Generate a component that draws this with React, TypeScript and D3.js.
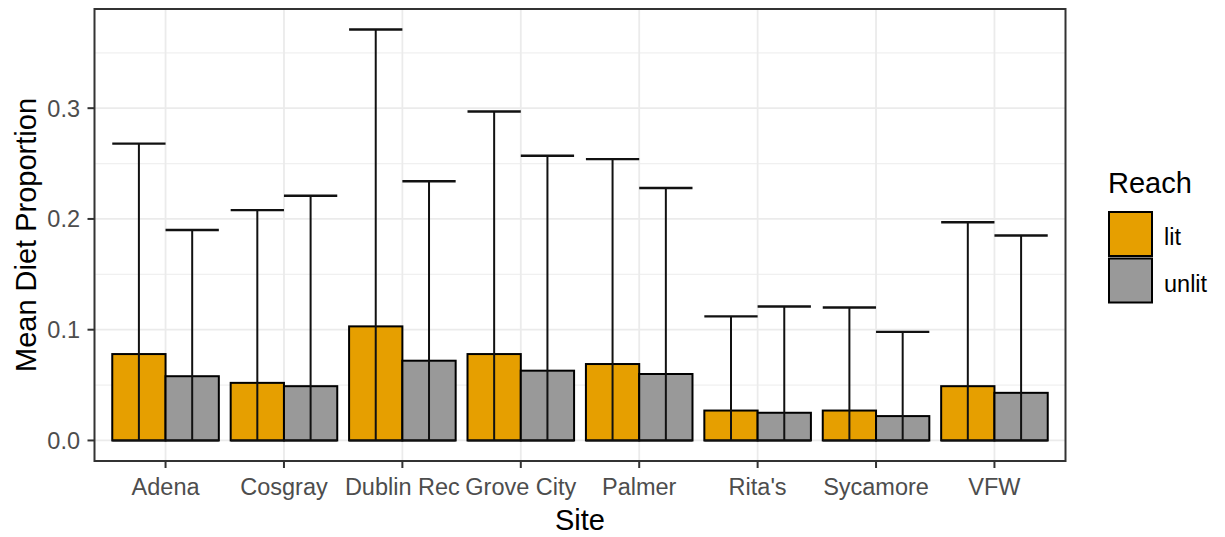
import * as d3 from "d3";

const sites = ["Adena", "Cosgray", "Dublin Rec", "Grove City", "Palmer", "Rita's", "Sycamore", "VFW"];
const reaches = ["lit", "unlit"];
const litMean = [0.078, 0.052, 0.103, 0.078, 0.069, 0.027, 0.027, 0.049];
const litUpper = [0.268, 0.208, 0.371, 0.297, 0.254, 0.112, 0.120, 0.197];
const litLower = [0, 0, 0, 0, 0, 0, 0, 0];
const unlitMean = [0.058, 0.049, 0.072, 0.063, 0.060, 0.025, 0.022, 0.043];
const unlitUpper = [0.190, 0.221, 0.234, 0.257, 0.228, 0.121, 0.098, 0.185];
const unlitLower = [0, 0, 0, 0, 0, 0, 0, 0];
const yTicks = [0, 0.1, 0.2, 0.3];
const yMinor = [0.05, 0.15, 0.25, 0.35];

const colors: Record<string, string> = { lit: "#E69F00", unlit: "#999999" };
const FONT = "Arial, 'Liberation Sans', sans-serif";

export default function App() {
  const width = 1225;
  const height = 537;
  const panel = { left: 94.5, right: 1065.5, top: 9, bottom: 461 };

  const rows = sites.flatMap((s, i) => [
    { site: s, reach: "lit", mean: litMean[i], lo: litLower[i], hi: litUpper[i] },
    { site: s, reach: "unlit", mean: unlitMean[i], lo: unlitLower[i], hi: unlitUpper[i] },
  ]);

  const maxV = d3.max(rows, (d) => d.hi) as number;
  const pad = maxV * 0.05;
  const y = d3.scaleLinear().domain([-pad, maxV + pad]).range([panel.bottom, panel.top]);

  const x = d3
    .scaleBand()
    .domain(sites)
    .range([panel.left, panel.right])
    .paddingInner(0)
    .paddingOuter(0.1);
  const bw = x.bandwidth();
  const xr = d3
    .scaleBand()
    .domain(reaches)
    .range([0.05 * bw, 0.95 * bw]);
  const center = (s: string) => (x(s) as number) + bw / 2;

  return (
    <svg
      width={width}
      height={height}
      style={{ position: "absolute", left: 0, top: 0, background: "#fff" }}
      fontFamily={FONT}
    >
      <rect x={0} y={0} width={width} height={height} fill="#fff" />
      {/* grid */}
      {yMinor.map((t) => (
        <line key={"mn" + t} x1={panel.left} x2={panel.right} y1={y(t)} y2={y(t)} stroke="#F0F0F0" strokeWidth={1.2} />
      ))}
      {yTicks.map((t) => (
        <line key={"mj" + t} x1={panel.left} x2={panel.right} y1={y(t)} y2={y(t)} stroke="#EBEBEB" strokeWidth={1.8} />
      ))}
      {sites.map((s) => (
        <line key={"vg" + s} x1={center(s)} x2={center(s)} y1={panel.top} y2={panel.bottom} stroke="#EBEBEB" strokeWidth={1.8} />
      ))}

      {/* bars */}
      {rows.map((d) => {
        const bx = (x(d.site) as number) + (xr(d.reach) as number);
        return (
          <rect
            key={"b" + d.site + d.reach}
            x={bx}
            y={y(d.mean)}
            width={xr.bandwidth()}
            height={y(0) - y(d.mean)}
            fill={colors[d.reach]}
            stroke="#000"
            strokeWidth={2}
          />
        );
      })}

      {/* error bars */}
      {rows.map((d) => {
        const bx = (x(d.site) as number) + (xr(d.reach) as number);
        const cx = bx + xr.bandwidth() / 2;
        return (
          <g key={"e" + d.site + d.reach} stroke="#111" strokeWidth={2}>
            <line x1={cx} x2={cx} y1={y(d.lo)} y2={y(d.hi)} />
            <line x1={bx} x2={bx + xr.bandwidth()} y1={y(d.hi)} y2={y(d.hi)} strokeWidth={2.4} />
            <line x1={bx} x2={bx + xr.bandwidth()} y1={y(d.lo)} y2={y(d.lo)} />
          </g>
        );
      })}

      {/* panel border */}
      <rect
        x={panel.left}
        y={panel.top}
        width={panel.right - panel.left}
        height={panel.bottom - panel.top}
        fill="none"
        stroke="#333333"
        strokeWidth={2}
      />

      {/* y axis */}
      {yTicks.map((t) => (
        <g key={"yt" + t}>
          <line x1={panel.left - 7} x2={panel.left} y1={y(t)} y2={y(t)} stroke="#333333" strokeWidth={2} />
          <text x={80} y={y(t)} dy="0.36em" textAnchor="end" fontSize={23.5} fill="#4D4D4D">
            {d3.format(".1f")(t)}
          </text>
        </g>
      ))}
      <text
        transform={`translate(36,${(panel.top + panel.bottom) / 2}) rotate(-90)`}
        textAnchor="middle"
        fontSize={29}
        fill="#000"
      >
        Mean Diet Proportion
      </text>

      {/* x axis */}
      {sites.map((s) => (
        <g key={"xt" + s}>
          <line x1={center(s)} x2={center(s)} y1={panel.bottom} y2={panel.bottom + 7} stroke="#333333" strokeWidth={2} />
          <text x={center(s)} y={495} textAnchor="middle" fontSize={23.5} fill="#4D4D4D">
            {s}
          </text>
        </g>
      ))}
      <text x={(panel.left + panel.right) / 2} y={530} textAnchor="middle" fontSize={29} fill="#000">
        Site
      </text>

      {/* legend */}
      <text x={1108} y={193} fontSize={29} fill="#000">
        Reach
      </text>
      {reaches.map((r, i) => {
        const ky = 211 + i * 46.5;
        return (
          <g key={"lg" + r}>
            <rect x={1109} y={ky + 1} width={43} height={44} fill={colors[r]} stroke="#000" strokeWidth={2} />
            <text x={1164} y={ky + 23 + 11} fontSize={23.5} fill="#000">
              {r}
            </text>
          </g>
        );
      })}
    </svg>
  );
}
